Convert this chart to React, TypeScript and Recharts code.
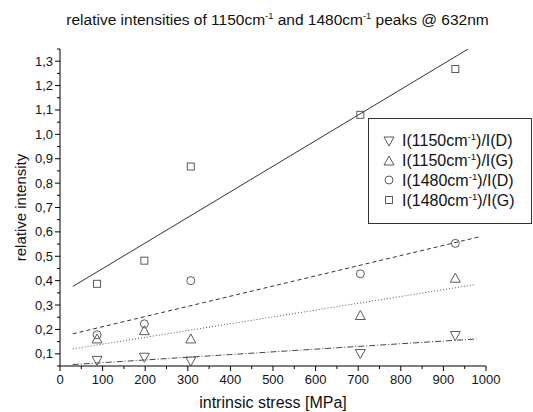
import React from "react";
import { ScatterChart, Scatter, XAxis, YAxis } from "recharts";

// measured stress values [MPa]
const stress = [87, 198, 307, 705, 928];

// relative intensities per ratio
const r1150D = [0.073, 0.086, 0.07, 0.101, 0.175];
const r1150G = [0.161, 0.195, 0.161, 0.257, 0.41];
const r1480D = [0.178, 0.223, 0.4, 0.428, 0.553];
const r1480G = [0.387, 0.482, 0.868, 1.08, 1.268];

// linear fit end points [x0, y0, x1, y1]
const fit1150D = [30, 0.056, 978, 0.161];
const fit1150G = [30, 0.12, 975, 0.384];
const fit1480D = [30, 0.182, 985, 0.58];
const fit1480G = [30, 0.376, 958, 1.35];

const xTicks = [0, 50, 100, 150, 200, 250, 300, 350, 400, 450, 500, 550, 600, 650, 700, 750, 800, 850, 900, 950, 1000];
const yTicks = [0.05, 0.1, 0.15, 0.2, 0.25, 0.3, 0.35, 0.4, 0.45, 0.5, 0.55, 0.6, 0.65, 0.7, 0.75, 0.8, 0.85, 0.9, 0.95, 1.0, 1.05, 1.1, 1.15, 1.2, 1.25, 1.3, 1.35];

const seriesNames = ["I(1150cm-1)/I(D)", "I(1150cm-1)/I(G)", "I(1480cm-1)/I(D)", "I(1480cm-1)/I(G)"];

const toPoints = (vals: number[]) => stress.map((x, i) => ({ x, y: vals[i] }));
const toLine = (f: number[]) => [{ x: f[0], y: f[1] }, { x: f[2], y: f[3] }];

const FONT = "'Liberation Sans', Arial, sans-serif";
const MARK = "#5a5a5a";
const AXIS_X = 60;
const AXIS_Y = 366;

const TriDown = ({ cx, cy }: any) => (
  <polygon points={`${cx - 5},${cy - 4} ${cx + 5},${cy - 4} ${cx},${cy + 5}`} fill="none" stroke={MARK} strokeWidth={1} />
);
const TriUp = ({ cx, cy }: any) => (
  <polygon points={`${cx - 5},${cy + 4} ${cx + 5},${cy + 4} ${cx},${cy - 5}`} fill="none" stroke={MARK} strokeWidth={1} />
);
const Circ = ({ cx, cy }: any) => <circle cx={cx} cy={cy} r={4} fill="none" stroke={MARK} strokeWidth={1} />;
const Sq = ({ cx, cy }: any) => <rect x={cx - 3.5} y={cy - 3.5} width={7} height={7} fill="none" stroke={MARK} strokeWidth={1} />;
const NoDot = () => <g />;

const shapes = [TriDown, TriUp, Circ, Sq];

const isMajor = (v: number, step: number) => Math.abs(v / step - Math.round(v / step)) < 1e-6;

const XTick = ({ payload }: any) => {
  const major = isMajor(payload.value, 100);
  const x = payload.coordinate;
  return (
    <g>
      <line x1={x} x2={x} y1={AXIS_Y} y2={AXIS_Y + (major ? 5 : 3)} stroke="#000" />
      {major && (
        <text x={x} y={AXIS_Y + 18} textAnchor="middle" fontSize={13} fontFamily={FONT} fill="#111">
          {payload.value}
        </text>
      )}
    </g>
  );
};

const YTick = ({ payload }: any) => {
  const major = isMajor(payload.value, 0.1);
  const y = payload.coordinate;
  return (
    <g>
      <line x1={AXIS_X} x2={AXIS_X - (major ? 5 : 3)} y1={y} y2={y} stroke="#000" />
      {major && (
        <text x={AXIS_X - 7} y={y + 4.5} textAnchor="end" fontSize={13} fontFamily={FONT} fill="#111">
          {payload.value.toFixed(1).replace(".", ",")}
        </text>
      )}
    </g>
  );
};

const Sup = ({ children }: any) => (
  <span style={{ fontSize: "0.6em", verticalAlign: "0.6em" }}>{children}</span>
);

const renderName = (name: string) => {
  const [a, b] = name.split("-1");
  return (
    <>
      {a}
      <Sup>-1</Sup>
      {b}
    </>
  );
};

const LegendBox = () => (
  <div
    style={{
      position: "absolute",
      left: 368,
      top: 118,
      width: 164,
      height: 106,
      border: "1px solid #333",
      background: "#fff",
      fontFamily: FONT,
      fontSize: 16,
      color: "#111",
      boxSizing: "border-box",
      paddingTop: 12,
    }}
  >
    {seriesNames.map((n, i) => {
      const Shape = shapes[i];
      return (
        <div key={n} style={{ display: "flex", alignItems: "center", height: 19.7 }}>
          <svg width={33} height={14} style={{ flex: "none" }}>
            <Shape cx={20} cy={7} />
          </svg>
          <span style={{ whiteSpace: "nowrap" }}>{renderName(n)}</span>
        </div>
      );
    })}
  </div>
);

export default function App() {
  return (
    <div style={{ position: "absolute", left: 0, top: 0, width: 533, height: 412, background: "#fff" }}>
      <div
        style={{
          position: "absolute",
          top: 11,
          left: 0,
          width: 555,
          textAlign: "center",
          fontFamily: FONT,
          fontSize: 15.5,
          color: "#111",
          whiteSpace: "nowrap",
        }}
      >
        relative intensities of 1150cm<Sup>-1</Sup> and 1480cm<Sup>-1</Sup> peaks @ 632nm
      </div>
      <ScatterChart width={533} height={412} margin={{ top: 49, right: 47, bottom: 0, left: 0 }}>
        <XAxis
          type="number"
          dataKey="x"
          domain={[0, 1000]}
          ticks={xTicks}
          interval={0}
          height={46}
          axisLine={{ stroke: "#000" }}
          tickLine={false}
          tick={<XTick />}
          label={{
            content: ({ viewBox }: any) => (
              <text x={viewBox.x + viewBox.width / 2} y={408} textAnchor="middle" fontSize={16} fontFamily={FONT} fill="#111">
                intrinsic stress [MPa]
              </text>
            ),
          }}
        />
        <YAxis
          type="number"
          dataKey="y"
          domain={[0.05, 1.35]}
          ticks={yTicks}
          interval={0}
          width={60}
          allowDataOverflow
          axisLine={{ stroke: "#000" }}
          tickLine={false}
          tick={<YTick />}
          label={{
            content: ({ viewBox }: any) => {
              const cy = viewBox.y + viewBox.height / 2;
              return (
                <text x={26} y={cy} transform={`rotate(-90 26 ${cy})`} textAnchor="middle" fontSize={15} fontFamily={FONT} fill="#111">
                  relative intensity
                </text>
              );
            },
          }}
        />
        <Scatter data={toLine(fit1480G)} line={{ stroke: "#333", strokeWidth: 1 }} shape={NoDot} isAnimationActive={false} />
        <Scatter data={toLine(fit1480D)} line={{ stroke: "#333", strokeWidth: 1, strokeDasharray: "4 3" }} shape={NoDot} isAnimationActive={false} />
        <Scatter data={toLine(fit1150G)} line={{ stroke: "#555", strokeWidth: 1, strokeDasharray: "1 2" }} shape={NoDot} isAnimationActive={false} />
        <Scatter data={toLine(fit1150D)} line={{ stroke: "#444", strokeWidth: 1, strokeDasharray: "6 2 1 2" }} shape={NoDot} isAnimationActive={false} />
        <Scatter name={seriesNames[0]} data={toPoints(r1150D)} shape={TriDown} isAnimationActive={false} />
        <Scatter name={seriesNames[1]} data={toPoints(r1150G)} shape={TriUp} isAnimationActive={false} />
        <Scatter name={seriesNames[2]} data={toPoints(r1480D)} shape={Circ} isAnimationActive={false} />
        <Scatter name={seriesNames[3]} data={toPoints(r1480G)} shape={Sq} isAnimationActive={false} />
      </ScatterChart>
      <LegendBox />
    </div>
  );
}
